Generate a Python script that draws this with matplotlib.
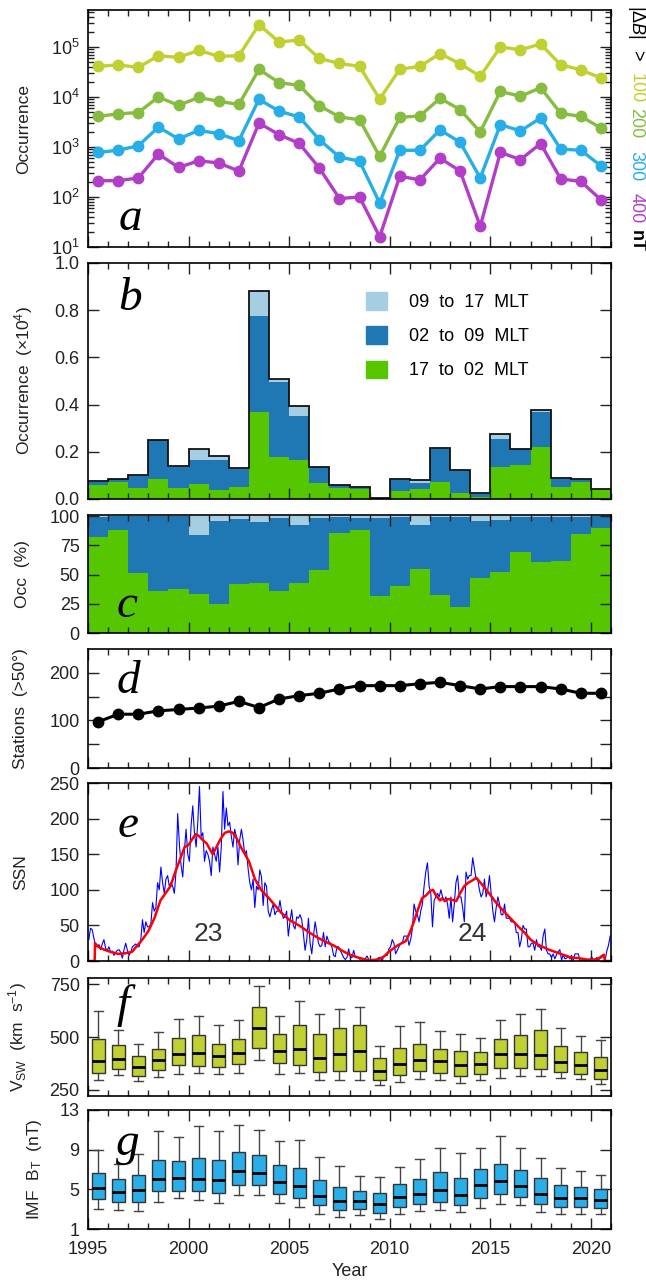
import numpy as np
import matplotlib.pyplot as plt
from matplotlib.ticker import MultipleLocator, LogLocator, NullFormatter, FixedLocator
from matplotlib.patches import Patch

plt.rcParams['font.family'] = ['Liberation Sans', 'DejaVu Sans']
plt.rcParams['mathtext.fontset'] = 'custom'
plt.rcParams['mathtext.rm'] = 'Liberation Sans'
plt.rcParams['mathtext.it'] = 'Liberation Sans:italic'
plt.rcParams['mathtext.default'] = 'regular'

years = np.arange(1995, 2021)

# panel a: yearly occurrence for |dB| thresholds (nT)
occ_100 = [41000, 44000, 39000, 67000, 62000, 86000, 65000, 67000, 280000, 126000,
           138000, 59000, 47000, 41000, 9100, 36000, 41000, 74000, 46000, 26000,
           100000, 88000, 115000, 44000, 35000, 24000]
occ_200 = [4100, 4600, 4900, 10000, 6800, 9800, 8200, 7100, 35700, 19400,
           17100, 6700, 4000, 3500, 650, 3900, 4200, 9400, 5600, 2000,
           13000, 10300, 15400, 4700, 4100, 2400]
occ_300 = [780, 860, 1060, 2500, 1450, 2150, 1850, 1340, 9000, 5200,
           4000, 1400, 630, 520, 76, 860, 860, 2200, 1240, 240,
           2800, 2100, 3800, 910, 860, 420]
occ_400 = [212, 212, 240, 725, 390, 530, 480, 330, 3000, 1770,
           1180, 380, 93, 100, 16, 260, 220, 600, 330, 26,
           780, 560, 1170, 230, 205, 88]

# panel b: occurrence by MLT sector (x10^4)
mlt_17_02 = [0.061, 0.070, 0.048, 0.086, 0.048, 0.065, 0.040, 0.052, 0.370, 0.180,
             0.167, 0.069, 0.047, 0.044, 0.002, 0.032, 0.042, 0.070, 0.024, 0.008,
             0.137, 0.145, 0.222, 0.052, 0.071, 0.037]
mlt_02_09 = [0.013, 0.013, 0.050, 0.162, 0.089, 0.099, 0.124, 0.076, 0.407, 0.317,
             0.183, 0.065, 0.011, 0.003, 0.003, 0.050, 0.027, 0.143, 0.096, 0.013,
             0.119, 0.065, 0.147, 0.034, 0.009, 0.003]
mlt_09_17 = [0.002, 0.002, 0.002, 0.002, 0.002, 0.048, 0.018, 0.003, 0.103, 0.011,
             0.045, 0.002, 0.003, 0.004, 0.001, 0.003, 0.013, 0.003, 0.003, 0.003,
             0.021, 0.003, 0.008, 0.003, 0.003, 0.001]

# panel c: percentages
pct_17_02 = [82.5, 88.4, 51, 36, 37.6, 33.3, 25, 41.8, 42.7, 36, 42.7, 53.7, 86,
             88.4, 31.6, 40, 54.5, 32.5, 22.3, 47, 52, 69, 60.5, 62, 85, 90]
pct_09_17 = [0.5, 0, 0, 0, 0, 16, 4.5, 2.5, 5.4, 1.7, 7.3, 1.7, 0.5, 1.7, 1.7,
             0.5, 7.3, 0.5, 0.5, 4.5, 3.4, 0.5, 0.5, 0.5, 0.5, 0]

# panel d: number of stations above 50 deg
stations = [97, 113, 113, 120, 123, 126, 130, 140, 127, 145, 152, 157, 166,
            173, 173, 173, 177, 180, 173, 166, 171, 171, 171, 166, 157, 157]

# panel e: monthly sunspot number and smoothed curve
ssn_monthly = [
    30, 46, 44, 32, 22, 20, 23, 16, 24, 30, 18, 15,
    20, 12, 14, 8, 12, 15, 16, 12, 4, 16, 25, 15,
    8, 12, 20, 22, 24, 20, 20, 30, 58, 40, 55, 48,
    48, 52, 82, 70, 75, 110, 100, 132, 110, 95, 115, 120,
    105, 110, 105, 95, 125, 207, 165, 135, 118, 155, 185, 150,
    140, 190, 218, 180, 160, 195, 245, 175, 180, 140, 155, 150,
    140, 120, 160, 150, 140, 160, 125, 160, 238, 185, 215, 190,
    195, 175, 160, 185, 175, 135, 170, 185, 170, 150, 155, 130,
    110, 100, 115, 75, 105, 100, 128, 118, 78, 110, 105, 70,
    62, 72, 80, 65, 70, 70, 85, 70, 60, 62, 70, 35,
    55, 72, 50, 45, 62, 60, 65, 58, 38, 15, 30, 60,
    25, 10, 35, 55, 40, 25, 20, 22, 40, 20, 35, 28,
    25, 20, 8, 6, 20, 20, 15, 10, 5, 2, 5, 17,
    5, 5, 15, 5, 5, 5, 1, 0, 2, 4, 7, 2,
    2, 2, 1, 1, 3, 5, 5, 0, 7, 8, 8, 17,
    20, 30, 25, 10, 15, 20, 25, 25, 35, 35, 35, 22,
    30, 45, 80, 70, 65, 55, 70, 80, 105, 125, 138, 105,
    95, 48, 85, 90, 95, 90, 100, 90, 85, 90, 80, 60,
    90, 55, 80, 110, 120, 90, 90, 75, 55, 125, 115, 120,
    120, 145, 130, 115, 115, 100, 90, 95, 115, 90, 100, 120,
    95, 70, 55, 75, 90, 80, 65, 65, 80, 60, 60, 60,
    55, 55, 55, 40, 40, 20, 30, 50, 45, 45, 20, 20,
    25, 25, 15, 30, 20, 20, 15, 35, 45, 15, 10, 10,
    5, 10, 3, 9, 13, 16, 1, 9, 3, 4, 6, 3,
    8, 1, 10, 10, 10, 1, 1, 0, 1, 0, 0, 2,
    6, 0, 2, 5, 0, 6, 8, 8, 1, 14, 22, 35,
]
smooth_t = [1995.00, 1995.33, 1995.35, 1995.5, 1995.8, 1996.1, 1996.5, 1996.9, 1997.2,
            1997.4, 1997.7, 1998.0, 1998.3, 1998.6, 1998.9, 1999.1, 1999.3, 1999.5,
            1999.8, 2000.0, 2000.2, 2000.35, 2000.5, 2000.7, 2000.9, 2001.1, 2001.2,
            2001.35, 2001.6, 2001.8, 2002.0, 2002.2, 2002.4, 2002.6, 2002.8, 2003.0,
            2003.3, 2003.6, 2004.0, 2004.3, 2004.6, 2005.0, 2005.3, 2005.6, 2006.0,
            2006.4, 2006.8, 2007.2, 2007.6, 2008.0, 2008.4, 2008.8, 2009.0, 2009.4,
            2009.7, 2010.0, 2010.4, 2010.8, 2011.0, 2011.2, 2011.4, 2011.6, 2011.8,
            2012.0, 2012.15, 2012.3, 2012.5, 2012.6, 2012.75, 2012.9, 2013.1, 2013.3,
            2013.5, 2013.7, 2013.9, 2014.1, 2014.3, 2014.45, 2014.6, 2014.8, 2015.0,
            2015.2, 2015.5, 2015.8, 2016.1, 2016.4, 2016.7, 2017.0, 2017.3, 2017.6,
            2017.9, 2018.2, 2018.6, 2019.0, 2019.4, 2019.8, 2020.2, 2020.5, 2020.65,
            2020.7, 2021.0]
smooth_ssn = [0, 0, 25, 20, 16, 13, 10, 11, 13,
              20, 30, 42, 60, 85, 97, 105, 122, 137,
              160, 163, 172, 178, 176, 170, 165, 155, 150,
              158, 172, 180, 182, 180, 172, 160, 150, 140,
              115, 100, 88, 78, 68, 58, 53, 48, 40,
              33, 27, 22, 15, 9, 5, 2, 1, 2,
              6, 14, 22, 28, 40, 55, 72, 88, 92,
              98, 100, 92, 85, 88, 84, 87, 86, 84,
              95, 105, 110, 113, 117, 112, 107, 100, 93,
              85, 75, 66, 57, 48, 40, 30, 24, 20,
              16, 13, 9, 5, 4, 2, 2, 5, 9,
              0, 0]

# panel f: solar wind speed box stats (km/s)
vsw_lo = [298, 320, 289, 309, 325, 327, 323, 328, 389, 325, 327, 297, 294, 297,
          270, 287, 302, 294, 284, 294, 306, 314, 313, 305, 302, 278]
vsw_q1 = [328, 348, 317, 342, 367, 364, 358, 372, 447, 377, 369, 334, 337, 339,
          298, 320, 339, 330, 317, 325, 353, 352, 348, 333, 325, 302]
vsw_med = [384, 395, 356, 389, 419, 423, 408, 425, 541, 434, 442, 400, 419, 434,
           337, 370, 391, 384, 366, 370, 417, 417, 416, 381, 366, 344]
vsw_q3 = [489, 461, 409, 445, 495, 511, 469, 489, 644, 512, 555, 516, 541, 555,
          402, 447, 469, 445, 433, 430, 492, 511, 534, 455, 428, 405]
vsw_hi = [622, 535, 466, 525, 587, 602, 559, 583, 742, 602, 669, 609, 633, 641,
          458, 552, 572, 530, 514, 494, 580, 608, 634, 544, 506, 486]

# panel g: IMF magnitude box stats (nT)
bt_lo = [3.03, 2.93, 2.83, 3.7, 4.1, 3.93, 3.6, 4.43, 4.43, 3.6, 3.23, 2.53, 2.23,
         2.37, 2.03, 2.53, 2.83, 2.93, 2.67, 3.13, 3.53, 3.47, 2.73, 2.53, 2.53, 2.47]
bt_q1 = [4.0, 3.7, 3.7, 4.8, 4.8, 4.8, 4.6, 5.4, 5.4, 4.53, 4.1, 3.37, 2.93,
         3.03, 2.63, 3.23, 3.53, 3.7, 3.47, 4.1, 4.53, 4.23, 3.53, 3.23, 3.23, 3.13]
bt_med = [5.13, 4.73, 4.93, 6.0, 6.1, 6.0, 5.9, 6.8, 6.6, 5.73, 5.33, 4.37, 3.87,
          3.87, 3.53, 4.23, 4.53, 4.93, 4.47, 5.47, 5.8, 5.33, 4.53, 4.17, 4.17, 3.93]
bt_q3 = [6.6, 6.0, 6.4, 8.0, 7.9, 8.17, 8.0, 8.8, 8.47, 7.47, 7.13, 5.9, 5.23,
         4.83, 4.6, 5.5, 6.0, 6.7, 6.13, 7.03, 7.6, 7.0, 6.13, 5.4, 5.23, 5.0]
bt_hi = [9.0, 7.6, 8.57, 10.87, 10.27, 11.43, 10.87, 11.53, 11.03, 9.87, 9.97, 8.3,
         7.4, 6.3, 6.23, 7.3, 8.1, 9.2, 8.67, 9.2, 10.37, 9.2, 8.2, 7.2, 6.8, 6.4]

W, H = 646, 1286
L, R = 88, 611
fig = plt.figure(figsize=(W / 100, H / 100), dpi=100)


def panel(top, bottom):
    return fig.add_axes([L / W, 1 - bottom / H, (R - L) / W, (bottom - top) / H])


def style(ax, last=False):
    ax.set_xlim(1995, 2021)
    ax.xaxis.set_major_locator(MultipleLocator(5))
    ax.xaxis.set_minor_locator(MultipleLocator(1))
    ax.tick_params(which='both', direction='in', top=True, right=True,
                   labelsize=13, width=1, colors='#222222', labelcolor='#222222')
    ax.tick_params(which='major', length=8)
    ax.tick_params(which='minor', length=4.5)
    ax.tick_params(axis='y', pad=6)
    ax.tick_params(axis='x', pad=9)
    if not last:
        ax.tick_params(axis='x', labelbottom=False)
    for s in ax.spines.values():
        s.set_linewidth(1.2)


def ylab(ax, text, px):
    ax.set_ylabel(text, fontsize=12.5, color='#222222')
    ax.yaxis.label.set_verticalalignment('center')
    ax.yaxis.set_label_coords((px - L) / (R - L), 0.5)


def letter(ax, s, px, py):
    fig.text(px / W, 1 - py / H, s, fontsize=34, family='Liberation Serif',
             style='italic', ha='center', va='baseline')


mid = years + 0.5
edges = np.arange(1995, 2022)

# a
ax = panel(10, 247)
for vals, col in [(occ_100, '#c0d030'), (occ_200, '#86bc40'),
                  (occ_300, '#27aee8'), (occ_400, '#b23ec8')]:
    ax.plot(mid, vals, '-o', color=col, lw=2.4, ms=7.5)
ax.set_yscale('log')
ax.set_ylim(10, 5.5e5)
ax.yaxis.set_major_locator(LogLocator(base=10, numticks=10))
ax.yaxis.set_minor_locator(LogLocator(base=10, subs=np.arange(2, 10), numticks=10))
ax.yaxis.set_minor_formatter(NullFormatter())
style(ax)
ylab(ax, 'Occurrence', 24)
letter(ax, 'a', 130, 230)
xr = 636
fig.text(xr / W, 1 - 22 / H, r'$|\Delta\mathit{B}|$', rotation=270, ha='center',
         va='center', fontsize=13)
fig.text(xr / W, 1 - 55 / H, '>', rotation=270, ha='center', va='center', fontsize=13)
for lab, col, yy in [('100', '#c0d030', 88), ('200', '#86bc40', 123),
                     ('300', '#27aee8', 166), ('400', '#b23ec8', 208)]:
    fig.text(xr / W, 1 - yy / H, lab, rotation=270, ha='center', va='center',
             fontsize=13, color=col)
fig.text(xr / W, 1 - 241 / H, 'nT', rotation=270, ha='center', va='center',
         fontsize=13, fontweight='bold')

# b
ax = panel(263, 499)
g = np.array(mlt_17_02)
b = np.array(mlt_02_09)
lt = np.array(mlt_09_17)
ax.bar(mid, g, width=1, color='#55c600', lw=0)
ax.bar(mid, b, bottom=g, width=1, color='#1f77b4', lw=0)
ax.bar(mid, lt, bottom=g + b, width=1, color='#a6cee3', lw=0)
ax.stairs(g + b + lt, edges, color='#111111', lw=1.3)
ax.set_ylim(0, 1.0)
ax.yaxis.set_major_locator(MultipleLocator(0.2))
ax.yaxis.set_major_formatter(lambda v, p: f'{v:.1f}')
style(ax)
ylab(ax, 'Occurrence  (×10$^4$)', 24)
letter(ax, 'b', 130, 310)
hnd = [Patch(color='#a6cee3'), Patch(color='#1f77b4'), Patch(color='#55c600')]
ax.legend(hnd, ['09  to  17  MLT', '02  to  09  MLT', '17  to  02  MLT'],
          loc='upper left', bbox_to_anchor=(0.5, 0.945), frameon=False,
          fontsize=13, handlelength=1.2, handleheight=1.1, labelspacing=0.85,
          handletextpad=1.2)

# c
ax = panel(515, 633)
pg = np.array(pct_17_02)
pl = np.array(pct_09_17)
pb = 100 - pg - pl
ax.bar(mid, pg, width=1, color='#55c600', lw=0)
ax.bar(mid, pb, bottom=pg, width=1, color='#1f77b4', lw=0)
ax.bar(mid, pl, bottom=pg + pb, width=1, color='#a6cee3', lw=0)
ax.set_ylim(0, 101)
ax.set_yticks([0, 25, 50, 75, 100])
style(ax)
ylab(ax, 'Occ  (%)', 22)
letter(ax, 'c', 127, 617)

# d
ax = panel(649, 768)
ax.plot(mid, stations, '-o', color='k', lw=2.2, ms=7.5)
ax.set_ylim(0, 250)
ax.set_yticks([0, 100, 200])
ax.yaxis.set_minor_locator(FixedLocator([50, 150]))
style(ax)
ax.tick_params(axis='y', which='minor', length=8)
ylab(ax, 'Stations  (>50°)', 21)
letter(ax, 'd', 128, 693)

# e
ax = panel(783, 961)
t_month = np.repeat(years, 12) + (np.tile(np.arange(12), len(years)) + 0.5) / 12
ax.plot(t_month, ssn_monthly, color='#0000ff', lw=0.8)
ax.plot(smooth_t, smooth_ssn, color='#ff0000', lw=1.8)
ax.set_ylim(0, 250)
ax.yaxis.set_major_locator(MultipleLocator(50))
style(ax)
ylab(ax, 'SSN', 21)
letter(ax, 'e', 128, 837)
ax.text(2001.0, 38, '23', fontsize=19, color='#333333', ha='center', va='center')
ax.text(2014.1, 38, '24', fontsize=19, color='#333333', ha='center', va='center')


def boxes(ax, lo, q1, med, q3, hi, col):
    stats = [dict(whislo=a, q1=b_, med=c, q3=d_, whishi=e_)
             for a, b_, c, d_, e_ in zip(lo, q1, med, q3, hi)]
    ax.bxp(stats, positions=mid, widths=0.65, patch_artist=True, showfliers=False,
           manage_ticks=False, capwidths=0.45,
           boxprops=dict(facecolor=col, edgecolor='#333333', lw=1),
           medianprops=dict(color='k', lw=2),
           whiskerprops=dict(color='#444444', lw=1),
           capprops=dict(color='#444444', lw=1))


# f
ax = panel(978, 1096)
boxes(ax, vsw_lo, vsw_q1, vsw_med, vsw_q3, vsw_hi, '#c0cf32')
ax.set_ylim(220, 780)
ax.set_yticks([250, 500, 750])
style(ax)
ylab(ax, 'V$_{SW}$  (km  s$^{-1}$)', 18)
letter(ax, 'f', 123, 1017)

# g
ax = panel(1110, 1229)
boxes(ax, bt_lo, bt_q1, bt_med, bt_q3, bt_hi, '#29aee8')
ax.set_ylim(1, 13)
ax.set_yticks([1, 5, 9, 13])
style(ax, last=True)
ylab(ax, 'IMF  B$_T$  (nT)', 34)
letter(ax, 'g', 128, 1155)
ax.set_xlabel('Year', fontsize=13, color='#222222', labelpad=3)

fig.savefig('out.png', dpi=100)
